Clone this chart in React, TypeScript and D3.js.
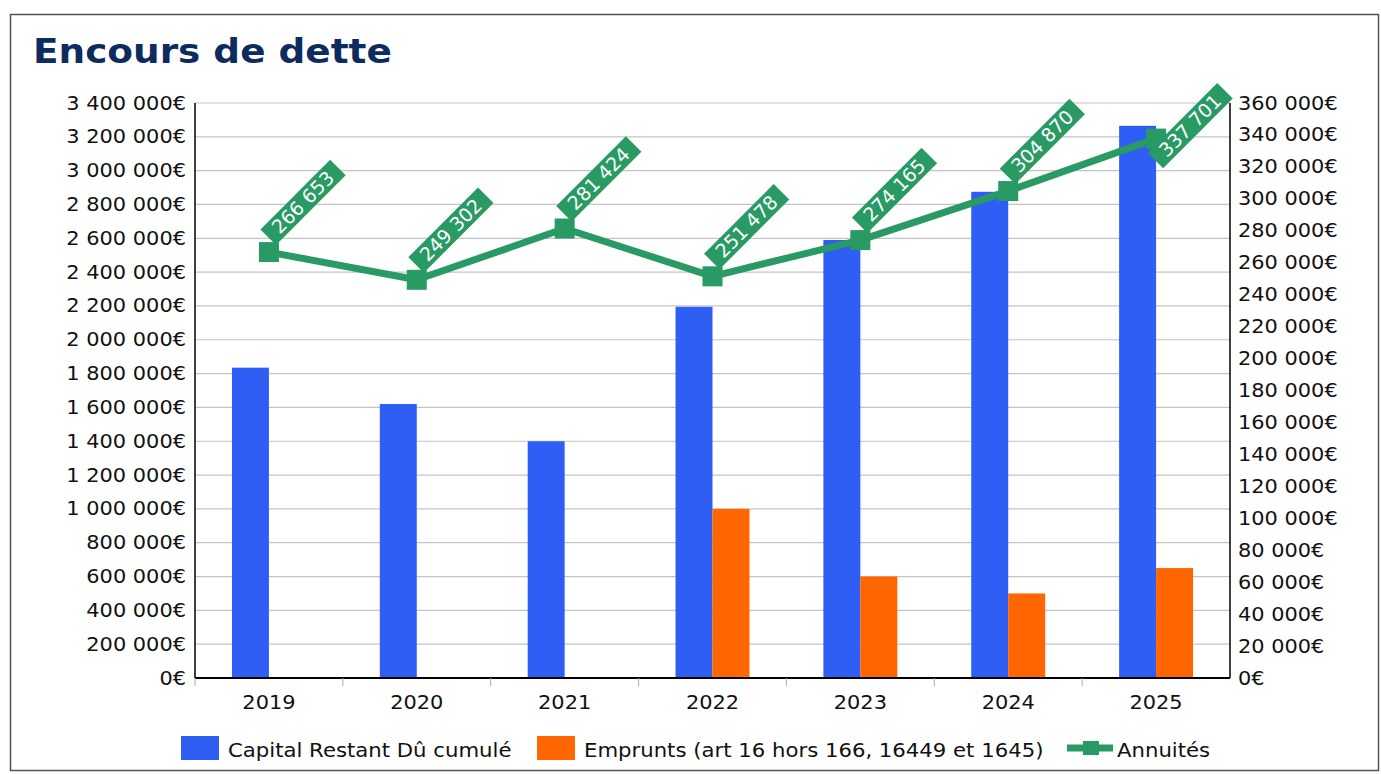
import React from "react";
import * as d3 from "d3";

// Years and series
const years = ["2019", "2020", "2021", "2022", "2023", "2024", "2025"];
const capitalRestantDu = [1835000, 1620000, 1400000, 2195000, 2590000, 2875000, 3265000];
const emprunts = [0, 0, 0, 1000000, 600000, 500000, 650000];
const annuites = [266653, 249302, 281424, 251478, 274165, 304870, 337701];

const leftTicks = d3.range(0, 3400001, 200000);
const rightTicks = d3.range(0, 360001, 20000);

const seriesNames = [
  "Capital Restant Dû cumulé",
  "Emprunts (art 16 hors 166, 16449 et 1645)",
  "Annuités",
];

const W = 1381;
const H = 774;
const BLUE = "#2f5ef5";
const ORANGE = "#ff6500";
const GREEN = "#2a9a64";
const FONT = "'DejaVu Sans', Verdana, sans-serif";
const SX = 1.1; // horizontal text stretch

const fr = d3.formatLocale({
  decimal: ",",
  thousands: " ",
  grouping: [3],
  currency: ["", "€"],
});
const fmtInt = fr.format(",.0f");
const fmtEuro = (v: number) => fmtInt(v) + "€";

const plot = { left: 195, right: 1230, top: 103, bottom: 678 };

function T({ x, y, anchor = "start", size = 19, weight = "normal", fill = "#111", children }: any) {
  return (
    <text
      transform={`translate(${x},${y}) scale(${SX},1)`}
      textAnchor={anchor}
      fontSize={size}
      fontWeight={weight}
      fill={fill}
      fontFamily={FONT}
    >
      {children}
    </text>
  );
}

export default function App() {
  const x = d3.scaleBand<string>().domain(years).range([plot.left, plot.right]).paddingInner(0).paddingOuter(0);
  const bw = x.bandwidth();
  const xs = d3.scaleBand<string>().domain(["crd", "emp"]).range([bw * 0.25, bw * 0.75]).padding(0);
  const yL = d3.scaleLinear().domain([0, 3400000]).range([plot.bottom, plot.top]);
  const yR = d3.scaleLinear().domain([0, 360000]).range([plot.bottom, plot.top]);

  const cx = (yr: string) => (x(yr) as number) + bw / 2;
  const linePts: [number, number][] = years.map((yr, i) => [cx(yr), yR(annuites[i])]);
  const line = d3.line()(linePts) as string;

  const labelFont = 19;
  const minTop = 83;
  const c45 = Math.SQRT1_2;

  return (
    <svg
      width={W}
      height={H}
      style={{ position: "absolute", left: 0, top: 0, display: "block", background: "#fff" }}
    >
      <rect x={0} y={0} width={W} height={H} fill="#fff" />
      <rect x={10.5} y={14.5} width={1368} height={756} fill="none" stroke="#555" strokeWidth={1.5} />

      <T x={33} y={63} size={34} weight="bold" fill="#0d2b5e">Encours de dette</T>

      {/* horizontal grid */}
      {leftTicks.map((t) => (
        <line key={t} x1={plot.left} x2={plot.right} y1={yL(t)} y2={yL(t)} stroke="#c4c4c4" strokeWidth={1.2} />
      ))}

      {/* left axis labels */}
      {leftTicks.map((t) => (
        <T key={t} x={186} y={yL(t) + 6.5} anchor="end">{fmtEuro(t)}</T>
      ))}
      {/* right axis labels */}
      {rightTicks.map((t) => (
        <T key={t} x={1238} y={yR(t) + 6.5}>{fmtEuro(t)}</T>
      ))}

      {/* bars */}
      {years.map((yr, i) => (
        <g key={yr} transform={`translate(${x(yr)},0)`}>
          <rect x={xs("crd")} width={xs.bandwidth()} y={yL(capitalRestantDu[i])} height={plot.bottom - yL(capitalRestantDu[i])} fill={BLUE} />
          {emprunts[i] > 0 && (
            <rect x={xs("emp")} width={xs.bandwidth()} y={yL(emprunts[i])} height={plot.bottom - yL(emprunts[i])} fill={ORANGE} />
          )}
        </g>
      ))}

      {/* axes */}
      <line x1={plot.left} x2={plot.left} y1={plot.top} y2={plot.bottom} stroke="#000" strokeWidth={1.5} />
      <line x1={plot.right} x2={plot.right} y1={plot.top} y2={plot.bottom} stroke="#000" strokeWidth={1.5} />
      <line x1={plot.left} x2={plot.right} y1={plot.bottom} y2={plot.bottom} stroke="#000" strokeWidth={2} />
      {years.map((yr) => (
        <line key={yr} x1={x(yr)} x2={x(yr)} y1={plot.bottom} y2={plot.bottom + 8} stroke="#aaa" strokeWidth={1} />
      ))}
      {years.map((yr) => (
        <T key={yr} x={cx(yr)} y={709} anchor="middle">{yr}</T>
      ))}

      {/* annuities line */}
      <path d={line} fill="none" stroke={GREEN} strokeWidth={7} strokeLinejoin="round" />
      {linePts.map(([px, py], i) => (
        <rect key={i} x={px - 10} y={py - 10} width={20} height={20} fill={GREEN} />
      ))}

      {/* rotated value labels */}
      {linePts.map(([px, py], i) => {
        const txt = fmtInt(annuites[i]);
        const tw = (txt.replace(/ /g, "").length * 0.636 + (txt.split(" ").length - 1) * 0.318) * labelFont;
        const u0 = 10;
        const len = tw + 20;
        const vTop = -22;
        const topY = py + (-(u0 + len) * c45 + vTop * c45);
        const shift = Math.max(0, minTop - topY);
        return (
          <g key={i} transform={`translate(${px},${py + shift}) rotate(-45)`}>
            <rect x={u0} y={vTop} width={len} height={22} fill={GREEN} />
            <text x={u0 + len / 2} y={-4.5} textAnchor="middle" fontSize={labelFont} fill="#fff" fontFamily={FONT}>
              {txt}
            </text>
          </g>
        );
      })}

      {/* legend */}
      <rect x={181} y={736} width={38} height={24} fill={BLUE} />
      <T x={228} y={757} size={19.3}>{seriesNames[0]}</T>
      <rect x={537} y={736} width={38} height={24} fill={ORANGE} />
      <T x={584} y={757} size={19.3}>{seriesNames[1]}</T>
      <line x1={1067} x2={1113} y1={748} y2={748} stroke={GREEN} strokeWidth={7} />
      <rect x={1083} y={741} width={16} height={14} fill={GREEN} />
      <T x={1117} y={757} size={19.3}>{seriesNames[2]}</T>
    </svg>
  );
}
